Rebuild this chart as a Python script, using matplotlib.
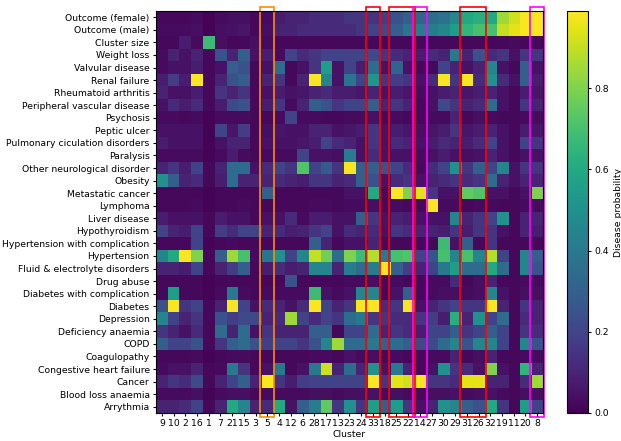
"""Cluster disease-probability heatmap with highlighted clusters."""

import matplotlib

matplotlib.use("Agg")
import matplotlib.pyplot as plt
import numpy as np
from matplotlib.patches import Rectangle

FONT_SIZE = 6.7

diseases = [
    "Outcome (female)", "Outcome (male)", "Cluster size", "Weight loss",
    "Valvular disease", "Renal failure", "Rheumatoid arthritis",
    "Peripheral vascular disease", "Psychosis", "Peptic ulcer",
    "Pulmonary ciculation disorders", "Paralysis",
    "Other neurological disorder", "Obesity", "Metastatic cancer",
    "Lymphoma", "Liver disease", "Hypothyroidism",
    "Hypertension with complication", "Hypertension",
    "Fluid & electrolyte disorders", "Drug abuse",
    "Diabetes with complication", "Diabetes", "Depression",
    "Deficiency anaemia", "COPD", "Coagulopathy",
    "Congestive heart failure", "Cancer", "Blood loss anaemia", "Arrythmia",
]

clusters = [
    "9", "10", "2", "16", "1", "7", "21", "15", "3", "5", "4", "12", "6",
    "28", "17", "13", "23", "24", "33", "18", "25", "22", "14", "27", "30",
    "29", "31", "26", "32", "19", "11", "20", "8",
]

# one row per disease, one value per cluster (same order as above)
probabilities = [
    [.02, .02, .02, .03, .01, .03, .04, .04, .02, .03, .08, .1, .1, .12, .12, .12, .15, .15, .15, .18, .25, .3, .32, .35, .37, .45, .6, .62, .6, .85, .92, .98, .98],
    [.03, .03, .03, .04, .01, .04, .05, .06, .02, .04, .1, .1, .12, .12, .12, .12, .12, .15, .2, .22, .3, .38, .42, .42, .45, .55, .65, .7, .7, .9, .95, .98, .98],
    [.02, .02, .08, .03, .68, .04, .02, .02, .04, .03, .02, .02, .02, .02, .02, .02, .02, .02, .02, .02, .02, .02, .02, .02, .02, .02, .02, .02, .02, .02, .03, .02, .02],
    [.03, .1, .05, .1, .02, .25, .1, .3, .05, .08, .03, .2, .12, .15, .2, .2, .2, .2, .22, .15, .12, .1, .08, .12, .1, .4, .1, .25, .12, .15, .05, .15, .15],
    [.03, .05, .05, .08, .02, .05, .3, .25, .02, .05, .35, .02, .05, .15, .55, .05, .2, .08, .35, .05, .32, .05, .02, .02, .2, .1, .05, .1, .45, .05, .02, .3, .05],
    [.08, .18, .08, .98, .02, .1, .25, .3, .02, .1, .15, .02, .1, .98, .45, .05, .38, .2, .52, .15, .18, .15, .05, .12, .98, .15, .98, .12, .5, .12, .05, .3, .08],
    [.1, .05, .05, .08, .02, .15, .1, .15, .02, .05, .08, .05, .06, .1, .12, .08, .08, .06, .1, .05, .08, .06, .03, .05, .08, .1, .06, .08, .1, .05, .02, .08, .06],
    [.05, .12, .08, .12, .02, .08, .22, .25, .02, .08, .15, .03, .1, .3, .25, .15, .2, .2, .3, .1, .15, .1, .02, .05, .22, .15, .1, .12, .35, .05, .02, .15, .1],
    [.03, .03, .02, .03, .01, .03, .03, .03, .02, .02, .03, .2, .03, .03, .02, .02, .03, .03, .05, .02, .03, .02, .02, .03, .03, .1, .02, .04, .03, .02, .02, .03, .03],
    [.05, .05, .05, .05, .01, .2, .06, .18, .02, .04, .06, .05, .05, .1, .1, .05, .06, .08, .15, .05, .08, .06, .04, .06, .08, .15, .06, .08, .1, .05, .02, .08, .06],
    [.08, .05, .05, .05, .01, .05, .1, .1, .02, .05, .05, .05, .06, .08, .2, .12, .1, .05, .15, .05, .12, .1, .05, .08, .12, .1, .08, .12, .2, .05, .02, .2, .15],
    [.03, .03, .03, .03, .01, .03, .08, .03, .02, .03, .03, .03, .2, .05, .05, .04, .42, .05, .12, .05, .05, .05, .03, .05, .08, .05, .04, .05, .1, .05, .02, .05, .05],
    [.1, .15, .08, .2, .02, .1, .35, .35, .05, .12, .2, .15, .72, .2, .28, .15, .98, .3, .3, .25, .2, .12, .02, .12, .2, .5, .15, .3, .2, .45, .05, .15, .15],
    [.5, .3, .1, .12, .02, .08, .35, .1, .1, .1, .12, .1, .08, .15, .15, .1, .12, .3, .25, .05, .12, .15, .05, .1, .12, .15, .12, .15, .35, .1, .05, .1, .1],
    [.02, .02, .02, .02, .01, .02, .02, .02, .02, .3, .02, .02, .02, .02, .02, .02, .05, .05, .6, .02, .98, .8, .95, .15, .05, .05, .75, .72, .05, .05, .02, .05, .8],
    [.02, .02, .02, .03, .01, .02, .02, .03, .02, .02, .02, .02, .02, .03, .03, .02, .03, .03, .04, .02, .03, .02, .02, .98, .03, .03, .02, .03, .03, .02, .02, .03, .03],
    [.08, .05, .05, .05, .02, .08, .05, .05, .02, .05, .05, .12, .03, .08, .08, .05, .05, .3, .15, .05, .1, .08, .05, .05, .05, .45, .1, .15, .2, .5, .02, .1, .1],
    [.2, .1, .08, .2, .02, .18, .12, .2, .2, .1, .12, .08, .1, .15, .2, .05, .12, .1, .12, .05, .15, .12, .1, .1, .08, .15, .08, .15, .15, .05, .02, .1, .08],
    [.02, .02, .02, .2, .01, .02, .03, .02, .02, .02, .02, .02, .02, .3, .1, .02, .05, .05, .1, .02, .02, .02, .02, .02, .68, .05, .3, .02, .15, .02, .02, .02, .02],
    [.45, .6, .98, .8, .02, .3, .85, .7, .03, .38, .5, .2, .45, .9, .78, .35, .8, .68, .88, .4, .7, .72, .2, .25, .7, .45, .7, .45, .88, .2, .02, .45, .3],
    [.1, .1, .08, .2, .02, .1, .18, .3, .02, .08, .12, .08, .1, .45, .45, .1, .42, .35, .42, .98, .3, .18, .1, .2, .4, .55, .35, .35, .6, .35, .02, .45, .25],
    [.02, .02, .02, .02, .01, .02, .02, .02, .02, .02, .02, .25, .02, .02, .02, .02, .03, .03, .04, .02, .03, .02, .02, .03, .03, .12, .02, .04, .1, .02, .02, .03, .03],
    [.02, .55, .02, .02, .01, .03, .4, .03, .02, .03, .03, .03, .03, .68, .05, .03, .05, .45, .45, .02, .05, .3, .02, .03, .04, .04, .03, .04, .45, .05, .02, .04, .04],
    [.25, .98, .15, .2, .02, .1, .98, .2, .05, .12, .1, .05, .12, .98, .2, .1, .15, .98, .98, .12, .15, .98, .05, .1, .15, .2, .15, .15, .98, .1, .02, .15, .1],
    [.45, .2, .1, .15, .02, .25, .18, .22, .22, .1, .12, .85, .2, .12, .2, .15, .35, .4, .15, .15, .12, .12, .15, .18, .08, .62, .1, .5, .2, .35, .02, .12, .1],
    [.15, .1, .05, .12, .02, .35, .1, .35, .05, .15, .1, .1, .1, .3, .3, .02, .2, .2, .35, .1, .15, .12, .08, .2, .2, .3, .15, .2, .3, .2, .02, .15, .12],
    [.3, .2, .2, .25, .02, .15, .3, .35, .25, .18, .2, .2, .15, .25, .45, .85, .35, .35, .4, .3, .35, .3, .22, .22, .35, .45, .25, .45, .45, .2, .02, .45, .25],
    [.02, .02, .02, .03, .01, .02, .03, .03, .02, .02, .02, .02, .02, .03, .03, .02, .05, .03, .04, .02, .03, .02, .02, .03, .03, .1, .02, .04, .1, .02, .02, .03, .03],
    [.03, .05, .05, .1, .02, .03, .4, .15, .02, .05, .4, .02, .05, .4, .92, .1, .35, .1, .5, .05, .4, .1, .02, .05, .5, .15, .12, .05, .8, .05, .02, .65, .1],
    [.1, .15, .12, .22, .02, .1, .2, .3, .1, .98, .15, .08, .18, .2, .2, .2, .2, .2, .98, .15, .95, .92, .98, .15, .15, .12, .95, .95, .1, .1, .02, .12, .85],
    [.03, .03, .03, .04, .01, .03, .04, .04, .02, .03, .03, .03, .03, .04, .04, .03, .04, .04, .05, .03, .04, .03, .02, .04, .04, .05, .03, .04, .05, .03, .02, .04, .04],
    [.1, .1, .12, .2, .02, .1, .6, .45, .1, .12, .6, .05, .3, .42, .75, .15, .5, .15, .55, .3, .55, .15, .05, .1, .5, .45, .3, .25, .6, .15, .02, .55, .2],
]

# highlighted clusters: (first column, last column, edge colour)
highlights = [
    (9, 9, "darkorange"),
    (18, 18, "red"),
    (20, 21, "red"),
    (22, 22, "magenta"),
    (26, 27, "red"),
    (32, 32, "magenta"),
]

values = np.array(probabilities)

fig = plt.figure(figsize=(6.21, 4.41), dpi=100)
ax = fig.add_axes([0.2512, 0.0635, 0.6232, 0.9115])
cax = fig.add_axes([0.9138, 0.0635, 0.0338, 0.9115])

image = ax.imshow(values, cmap="viridis", vmin=0.0, vmax=0.99, aspect="auto")

ax.set_xticks(np.arange(len(clusters)))
ax.set_xticklabels(clusters, fontsize=FONT_SIZE)
ax.set_yticks(np.arange(len(diseases)))
ax.set_yticklabels(diseases, fontsize=FONT_SIZE)
ax.tick_params(length=2.5, pad=2)
ax.set_xlabel("Cluster", fontsize=FONT_SIZE, labelpad=1)

for first, last, colour in highlights:
    ax.add_patch(
        Rectangle(
            (first - 0.6, -0.8),
            last - first + 1.2,
            len(diseases) + 0.6,
            fill=False,
            edgecolor=colour,
            linewidth=1.2,
            clip_on=False,
        )
    )

colorbar = fig.colorbar(image, cax=cax)
colorbar.set_ticks([0.0, 0.2, 0.4, 0.6, 0.8])
colorbar.ax.tick_params(labelsize=FONT_SIZE, length=2.5, pad=2)
colorbar.set_label("Disease probability", fontsize=FONT_SIZE, labelpad=3)

fig.savefig("out.png", dpi=100)
plt.close(fig)
